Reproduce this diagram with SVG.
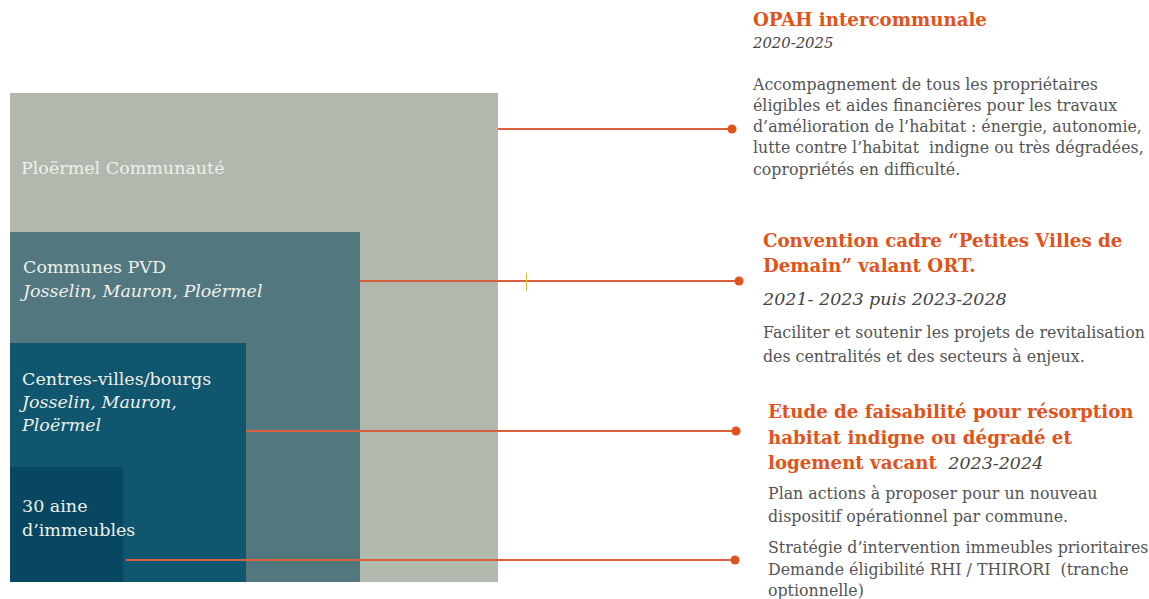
<svg xmlns="http://www.w3.org/2000/svg" width="1149" height="599" viewBox="0 0 1149 599">
<style>
  .lbl { font-family: "DejaVu Serif", "Liberation Serif", serif; fill: #eef0ea; font-size: 17.5px; }
  .it { font-style: italic; }
  .ttl { font-family: "DejaVu Serif", "Liberation Serif", serif; fill: #e0541c; font-weight: bold; font-size: 18.2px; }
  .body { font-family: "DejaVu Serif", "Liberation Serif", serif; fill: #545454; font-size: 15.8px; white-space: pre; }
  .date { font-family: "DejaVu Serif", "Liberation Serif", serif; fill: #444; font-style: italic; }
  .conn { stroke: #d9603a; stroke-width: 2; fill: none; }
  .dot { fill: #e0531c; }
</style>
<rect width="1149" height="599" fill="#ffffff"/>
<g id="ploermel-communaute">
  <rect x="10" y="93" width="488" height="489" fill="#b1b8ad"/>
  <text class="lbl" x="21" y="174">Ploërmel Communauté</text>
</g>
<g id="communes-pvd">
  <rect x="10" y="232" width="350" height="350" fill="#52777f"/>
  <text class="lbl" x="23" y="273">Communes PVD</text>
  <text class="lbl it" x="23" y="297">Josselin, Mauron, Ploërmel</text>
</g>
<g id="centres-villes">
  <rect x="10" y="343" width="236" height="239" fill="#10566e"/>
  <text class="lbl" x="22" y="385">Centres-villes/bourgs</text>
  <text class="lbl it" x="22" y="408">Josselin, Mauron,</text>
  <text class="lbl it" x="22" y="431">Ploërmel</text>
</g>
<g id="immeubles">
  <rect x="10" y="467" width="113" height="115" fill="#074761"/>
  <text class="lbl" x="22" y="512">30 aine</text>
  <text class="lbl" x="22" y="536">d’immeubles</text>
</g>
<g id="connectors">
  <line class="conn" x1="498" y1="129" x2="732" y2="129"/>
  <circle class="dot" cx="732" cy="129" r="4.5"/>
  <line class="conn" x1="360" y1="281" x2="739" y2="281"/>
  <circle class="dot" cx="739" cy="281" r="4.5"/>
  <line x1="526.5" y1="273" x2="526.5" y2="291" stroke="#c8c040" stroke-width="1"/>
  <line class="conn" x1="246" y1="431" x2="736" y2="431"/>
  <circle class="dot" cx="736" cy="431" r="4.5"/>
  <line class="conn" x1="126" y1="560" x2="735" y2="560"/>
  <circle class="dot" cx="735" cy="560" r="4.5"/>
</g>
<g id="opah">
  <text class="ttl" x="753" y="26" font-size="19.5">OPAH intercommunale</text>
  <text class="date" x="753" y="48" font-size="14.8">2020-2025</text>
  <text class="body" x="753" y="90">Accompagnement de tous les propriétaires</text>
  <text class="body" x="753" y="111">éligibles et aides financières pour les travaux</text>
  <text class="body" x="753" y="132">d’amélioration de l’habitat : énergie, autonomie,</text>
  <text class="body" x="753" y="153" font-size="15.5">lutte contre l’habitat  indigne ou très dégradées,</text>
  <text class="body" x="753" y="175">copropriétés en difficulté.</text>
</g>
<g id="pvd-convention">
  <text class="ttl" x="763" y="247">Convention cadre “Petites Villes de</text>
  <text class="ttl" x="763" y="272">Demain” valant ORT.</text>
  <text class="date" x="763" y="305" font-size="17.5">2021- 2023 puis 2023-2028</text>
  <text class="body" x="763" y="338">Faciliter et soutenir les projets de revitalisation</text>
  <text class="body" x="763" y="362">des centralités et des secteurs à enjeux.</text>
</g>
<g id="etude">
  <text class="ttl" x="768" y="418">Etude de faisabilité pour résorption</text>
  <text class="ttl" x="768" y="444">habitat indigne ou dégradé et</text>
  <text class="ttl" x="768" y="469">logement vacant <tspan class="date" font-weight="normal" font-size="17.5" dx="5">2023-2024</tspan></text>
  <text class="body" x="768" y="499">Plan actions à proposer pour un nouveau</text>
  <text class="body" x="768" y="522">dispositif opérationnel par commune.</text>
  <text class="body" x="768" y="553" font-size="15.6">Stratégie d’intervention immeubles prioritaires</text>
  <text class="body" x="768" y="575">Demande éligibilité RHI / THIRORI  (tranche</text>
  <text class="body" x="768" y="596">optionnelle)</text>
</g>
</svg>
